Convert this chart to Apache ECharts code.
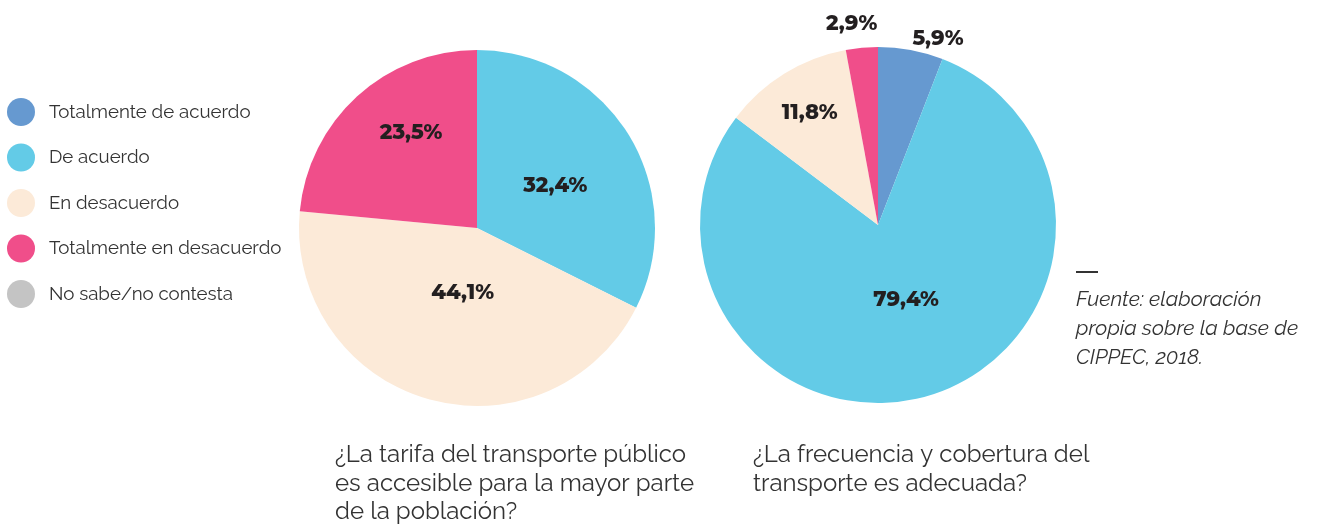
<!DOCTYPE html>
<html>
<head>
<meta charset="utf-8">
<script src="https://cdn.jsdelivr.net/npm/echarts@6/dist/echarts.min.js"></script>
<style>html,body{margin:0;padding:0;background:#fff}#c{width:1319px;height:524px}</style>
</head>
<body>
<div id="c"></div>
<script>
const categories = ['Totalmente de acuerdo', 'De acuerdo', 'En desacuerdo', 'Totalmente en desacuerdo', 'No sabe/no contesta'];
const colors = ['#6699D0', '#63CBE7', '#FCEAD8', '#F04E8A', '#C4C4C4'];
const tarifaValues = [0, 32.4, 44.1, 23.5, 0];
const frecuenciaValues = [5.9, 79.4, 11.8, 2.9, 0];
const tarifaTitle = '¿La tarifa del transporte público\nes accesible para la mayor parte\nde la población?';
const frecuenciaTitle = '¿La frecuencia y cobertura del\ntransporte es adecuada?';
const sourceNote = 'Fuente: elaboración\npropia sobre la base de\nCIPPEC, 2018.';

const labelFont = 'Montserrat, "Open Sans", sans-serif';
const textFont = 'Raleway, "Open Sans", sans-serif';

function buildData(values) {
  return categories.map((name, i) => ({
    name: name,
    value: values[i],
    itemStyle: { color: colors[i] },
    label: { show: values[i] > 0 }
  }));
}

// label nudges (by category index) relative to the library's inside position
const leftNudge = { 1: [0, 6], 2: [11, -24], 3: [-4, -27] };
const rightNudge = { 0: [43, -96], 1: [3, -14], 2: [-20, -34], 3: [-18, -110] };

function pieSeries(values, center, nudge) {
  return {
    type: 'pie',
    center: center,
    radius: 178,
    startAngle: 90,
    clockwise: true,
    avoidLabelOverlap: false,
    silent: true,
    data: buildData(values),
    label: {
      position: 'inside',
      formatter: p => p.value.toFixed(1).replace('.', ',') + '%',
      fontFamily: labelFont,
      fontWeight: 800,
      fontSize: 21,
      color: '#231F20'
    },
    labelLine: { show: false },
    labelLayout: function (p) {
      const n = nudge[p.dataIndex];
      return n ? { dx: n[0], dy: n[1] } : {};
    },
    itemStyle: { borderWidth: 0 }
  };
}

const chart = echarts.init(document.getElementById('c'));
chart.setOption({
  animation: false,
  backgroundColor: '#ffffff',
  legend: {
    orient: 'vertical',
    left: 2,
    top: 93,
    data: categories,
    icon: 'circle',
    itemWidth: 28,
    itemHeight: 28,
    itemGap: 17.5,
    selectedMode: false,
    textStyle: { fontFamily: textFont, fontSize: 18.7, color: '#333333', padding: [0, 0, 0, 9] }
  },
  title: [
    {
      text: tarifaTitle,
      left: 330,
      top: 436,
      textStyle: { fontFamily: textFont, fontSize: 24, fontWeight: 'normal', color: '#333333', lineHeight: 28.5 }
    },
    {
      text: frecuenciaTitle,
      left: 748,
      top: 436,
      textStyle: { fontFamily: textFont, fontSize: 24, fontWeight: 'normal', color: '#333333', lineHeight: 28.5 }
    },
    {
      text: sourceNote,
      left: 1071,
      top: 280,
      textStyle: { fontFamily: textFont, fontSize: 21, fontStyle: 'italic', fontWeight: 'normal', color: '#333333', lineHeight: 29 }
    }
  ],
  graphic: [
    { type: 'rect', left: 1076, top: 271, shape: { width: 22, height: 2 }, style: { fill: '#333333' } }
  ],
  series: [
    pieSeries(tarifaValues, [477, 228], leftNudge),
    pieSeries(frecuenciaValues, [878, 225], rightNudge)
  ]
});
</script>
</body>
</html>
